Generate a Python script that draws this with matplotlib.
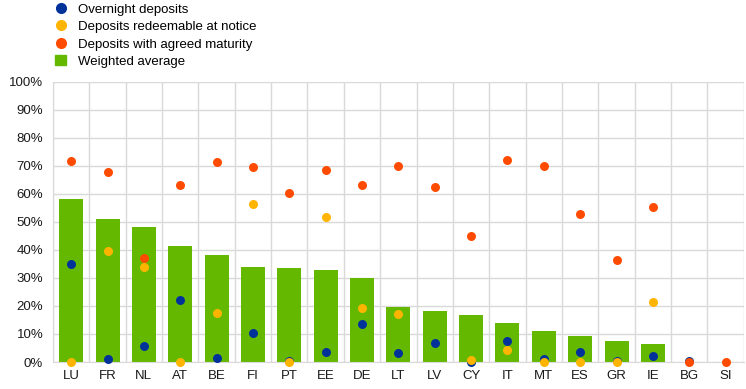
import matplotlib
matplotlib.use('Agg')
import numpy as np
import matplotlib.pyplot as plt
from matplotlib.lines import Line2D
from matplotlib.patches import Patch
from matplotlib.ticker import FuncFormatter, MultipleLocator

plt.rcParams['font.family'] = ['Liberation Sans', 'DejaVu Sans']

# ---- data (percent) ----
countries = ['LU', 'FR', 'NL', 'AT', 'BE', 'FI', 'PT', 'EE', 'DE', 'LT',
             'LV', 'CY', 'IT', 'MT', 'ES', 'GR', 'IE', 'BG', 'SI']
weighted = [58.2, 51.0, 48.2, 41.4, 38.2, 33.9, 33.5, 32.8, 29.9, 19.6,
            18.2, 16.8, 13.9, 11.0, 9.3, 7.5, 6.4, 0.0, 0.0]
overnight = [35.0, 1.2, 5.7, 22.1, 1.5, 10.3, 0.5, 3.6, 13.6, 3.3,
             6.9, 0.0, 7.5, 1.0, 3.7, 0.3, 2.3, 0.3, np.nan]
notice = [0.0, 39.6, 33.9, 0.0, 17.5, 56.4, 0.0, 51.7, 19.3, 17.2,
          np.nan, 0.8, 4.3, 0.0, 0.0, 0.0, 21.5, np.nan, np.nan]
agreed = [71.8, 67.8, 37.1, 63.1, 71.4, 69.6, 60.3, 68.5, 63.1, 69.9,
          62.4, 45.0, 72.1, 70.0, 52.8, 36.4, 55.3, 0.0, 0.0]

c_blue = '#003299'
c_yellow = '#ffb400'
c_red = '#ff4b00'
c_green = '#65b800'
c_grid = '#d9d9d9'

fig = plt.figure(figsize=(7.46, 3.89), dpi=100)
ax = fig.add_axes([0.071, 0.0694, 0.926, 0.72])

x = np.arange(len(countries))
ax.bar(x, weighted, width=0.66, color=c_green, zorder=2)
ms = 42
ax.scatter(x, overnight, s=ms, color=c_blue, zorder=3, clip_on=False, linewidths=0)
ax.scatter(x, notice, s=ms, color=c_yellow, zorder=4, clip_on=False, linewidths=0)
ax.scatter(x, agreed, s=ms, color=c_red, zorder=5, clip_on=False, linewidths=0)

ax.set_xlim(-0.5, len(countries) - 0.5)
ax.set_ylim(0, 100)
ax.set_xticks(x)
ax.set_xticklabels(countries)
ax.set_xticks(np.arange(-0.5, len(countries), 1.0), minor=True)
ax.yaxis.set_major_locator(MultipleLocator(10))
ax.yaxis.set_major_formatter(FuncFormatter(lambda v, p: f'{v:.0f}%'))
ax.grid(True, which='major', axis='y', color=c_grid, linewidth=1, zorder=0)
ax.grid(True, which='minor', axis='x', color=c_grid, linewidth=1, zorder=0)
ax.tick_params(which='both', length=0, labelsize=9.5, colors='#1a1a1a')
ax.tick_params(axis='x', pad=6)
ax.tick_params(axis='y', pad=7)
for side in ['top', 'right']:
    ax.spines[side].set_visible(False)
for side in ['left', 'bottom']:
    ax.spines[side].set_color(c_grid)

handles = [
    Line2D([], [], marker='o', linestyle='none', markersize=8, color=c_blue, markeredgewidth=0),
    Line2D([], [], marker='o', linestyle='none', markersize=8, color=c_yellow, markeredgewidth=0),
    Line2D([], [], marker='o', linestyle='none', markersize=8, color=c_red, markeredgewidth=0),
    Patch(color=c_green),
]
labels = ['Overnight deposits', 'Deposits redeemable at notice',
          'Deposits with agreed maturity', 'Weighted average']
fig.legend(handles, labels, loc='upper left', bbox_to_anchor=(0.062, 1.015),
           frameon=False, fontsize=9.5, handlelength=0.8, handleheight=0.8,
           handletextpad=0.9, labelspacing=0.35, borderpad=0.2)

fig.savefig('out.png', dpi=100)
